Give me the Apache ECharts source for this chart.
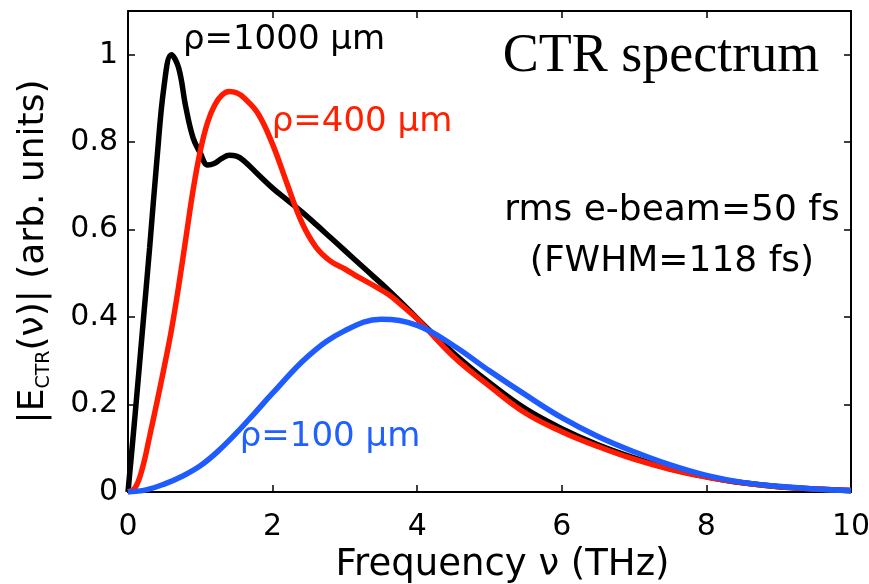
<!DOCTYPE html>
<html>
<head>
<meta charset="utf-8">
<script src="https://cdn.jsdelivr.net/npm/echarts@6/dist/echarts.min.js"></script>
<style>
html,body{margin:0;padding:0;background:#fff;}
#chart{width:869px;height:584px;}
</style>
</head>
<body>
<div id="chart"></div>
<script>
// Frequency samples (THz) for the rho=1000 and rho=400 curves
const freqA = [0,0.1,0.2,0.3,0.4,0.5,0.6,0.7,0.8,0.9,1.0,1.1,1.2,1.3,1.4,1.5,1.6,1.8,2.0,2.2,2.4,2.6,2.8,3.0,3.2,3.4,3.6,3.8,4.0,4.5,5.0,5.5,6.0,6.5,7.0,7.5,8.0,8.5,9.0,9.5,10];
const rho1000 = [0,0.18,0.37,0.56,0.76,0.93,1.0,0.97,0.88,0.81,0.775,0.748,0.752,0.763,0.77,0.768,0.758,0.726,0.695,0.668,0.641,0.612,0.582,0.552,0.522,0.492,0.462,0.43,0.397,0.318,0.25,0.19,0.145,0.108,0.078,0.053,0.035,0.021,0.012,0.007,0.003];
const rho400 = [0,0.01,0.055,0.128,0.205,0.285,0.37,0.47,0.58,0.69,0.78,0.845,0.885,0.908,0.916,0.913,0.902,0.865,0.795,0.705,0.618,0.56,0.528,0.51,0.49,0.472,0.452,0.425,0.396,0.31,0.242,0.18,0.138,0.104,0.075,0.052,0.034,0.021,0.012,0.007,0.004];
// Frequency samples (THz) for the rho=100 curve
const freqB = [0,0.25,0.5,0.75,1.0,1.25,1.5,1.75,2.0,2.5,3.0,3.5,4.0,4.5,5.0,5.5,6.0,6.5,7.0,7.5,8.0,8.5,9.0,9.5,10];
const rho100 = [0,0.005,0.018,0.036,0.06,0.094,0.135,0.18,0.226,0.312,0.369,0.395,0.381,0.335,0.277,0.222,0.17,0.127,0.092,0.062,0.038,0.022,0.013,0.007,0.003];

const xTicks = {min:0, max:10, interval:2};
const yTicks = {min:0, max:1.1, interval:0.2};

const curveLabels = ['ρ=1000 μm','ρ=400 μm','ρ=100 μm'];
const titleText = 'CTR spectrum';
const noteLines = ['rms e-beam=50 fs','(FWHM=118 fs)'];

function pairs(xs, ys){ return xs.map((x,i)=>[x, ys[i]]); }

const FONT = 'DejaVu Sans';
const chart = echarts.init(document.getElementById('chart'), null, {renderer:'canvas'});

const axisLineStyle = {lineStyle:{color:'#000', width:2}};
const tickStyle = {inside:true, length:7, lineStyle:{color:'#000', width:1.5}};

chart.setOption({
  animation:false,
  backgroundColor:'#fff',
  grid:{left:128, right:18, top:11, bottom:92, containLabel:false, outerBoundsMode:'none'},
  xAxis:[{
    type:'value', gridIndex:0, position:'bottom', min:xTicks.min, max:xTicks.max, interval:xTicks.interval,
    axisLine:Object.assign({onZero:false}, axisLineStyle), axisTick:tickStyle,
    splitLine:{show:false},
    axisLabel:{fontSize:30, color:'#000', fontFamily:FONT, margin:20},
    name:'Frequency ν (THz)', nameLocation:'middle', nameGap:52,
    nameTextStyle:{fontSize:37, color:'#000', fontFamily:FONT, padding:[0,0,0,26]}
  },{
    type:'value', gridIndex:0, position:'top', min:xTicks.min, max:xTicks.max, interval:xTicks.interval,
    axisLine:Object.assign({onZero:false}, axisLineStyle), axisTick:tickStyle,
    splitLine:{show:false}, axisLabel:{show:false}
  }],
  yAxis:[{
    type:'value', gridIndex:0, position:'left', min:yTicks.min, max:yTicks.max, interval:yTicks.interval,
    axisLine:Object.assign({onZero:false}, axisLineStyle), axisTick:tickStyle,
    splitLine:{show:false},
    axisLabel:{fontSize:30, color:'#000', fontFamily:FONT, margin:10, showMaxLabel:false},
    name:'|E{sub|CTR}(ν)| (arb. units)', nameLocation:'middle', nameRotate:90, nameGap:74,
    nameTextStyle:{fontSize:36, color:'#000', fontFamily:FONT, lineHeight:40,
      rich:{sub:{fontSize:19, fontFamily:FONT, color:'#000', verticalAlign:'bottom', lineHeight:40}}}
  },{
    type:'value', gridIndex:0, position:'right', min:yTicks.min, max:yTicks.max, interval:yTicks.interval,
    axisLine:Object.assign({onZero:false}, axisLineStyle), axisTick:tickStyle,
    splitLine:{show:false}, axisLabel:{show:false}
  }],
  series:[
    {name:curveLabels[0], type:'line', xAxisIndex:0, yAxisIndex:0, data:pairs(freqA, rho1000), showSymbol:false, smooth:0.4,
     lineStyle:{color:'#000000', width:5.5}, itemStyle:{color:'#000'}, z:2},
    {name:curveLabels[1], type:'line', xAxisIndex:0, yAxisIndex:0, data:pairs(freqA, rho400), showSymbol:false, smooth:0.4,
     lineStyle:{color:'#ff1a00', width:5.5}, itemStyle:{color:'#ff1a00'}, z:3},
    {name:curveLabels[2], type:'line', xAxisIndex:0, yAxisIndex:0, data:pairs(freqB, rho100), showSymbol:false, smooth:0.4,
     lineStyle:{color:'#1f5cff', width:5.5}, itemStyle:{color:'#1f5cff'}, z:4}
  ],
  graphic:[
    {type:'text', x:284, y:40, style:{text:curveLabels[0], fontSize:34, fontFamily:FONT, fill:'#000', align:'center', verticalAlign:'middle'}},
    {type:'text', x:362, y:122, style:{text:curveLabels[1], fontSize:34, fontFamily:FONT, fill:'#ff2000', align:'center', verticalAlign:'middle'}},
    {type:'text', x:330, y:437, style:{text:curveLabels[2], fontSize:34, fontFamily:FONT, fill:'#2060ff', align:'center', verticalAlign:'middle'}},
    {type:'text', x:661, y:57, style:{text:titleText, fontSize:54, fontFamily:'Liberation Serif', fill:'#000', align:'center', verticalAlign:'middle'}},
    {type:'text', x:672, y:211, style:{text:noteLines[0], fontSize:36, fontFamily:FONT, fill:'#000', align:'center', verticalAlign:'middle'}},
    {type:'text', x:672, y:262, style:{text:noteLines[1], fontSize:36, fontFamily:FONT, fill:'#000', align:'center', verticalAlign:'middle'}}
  ]
});
</script>
</body>
</html>
